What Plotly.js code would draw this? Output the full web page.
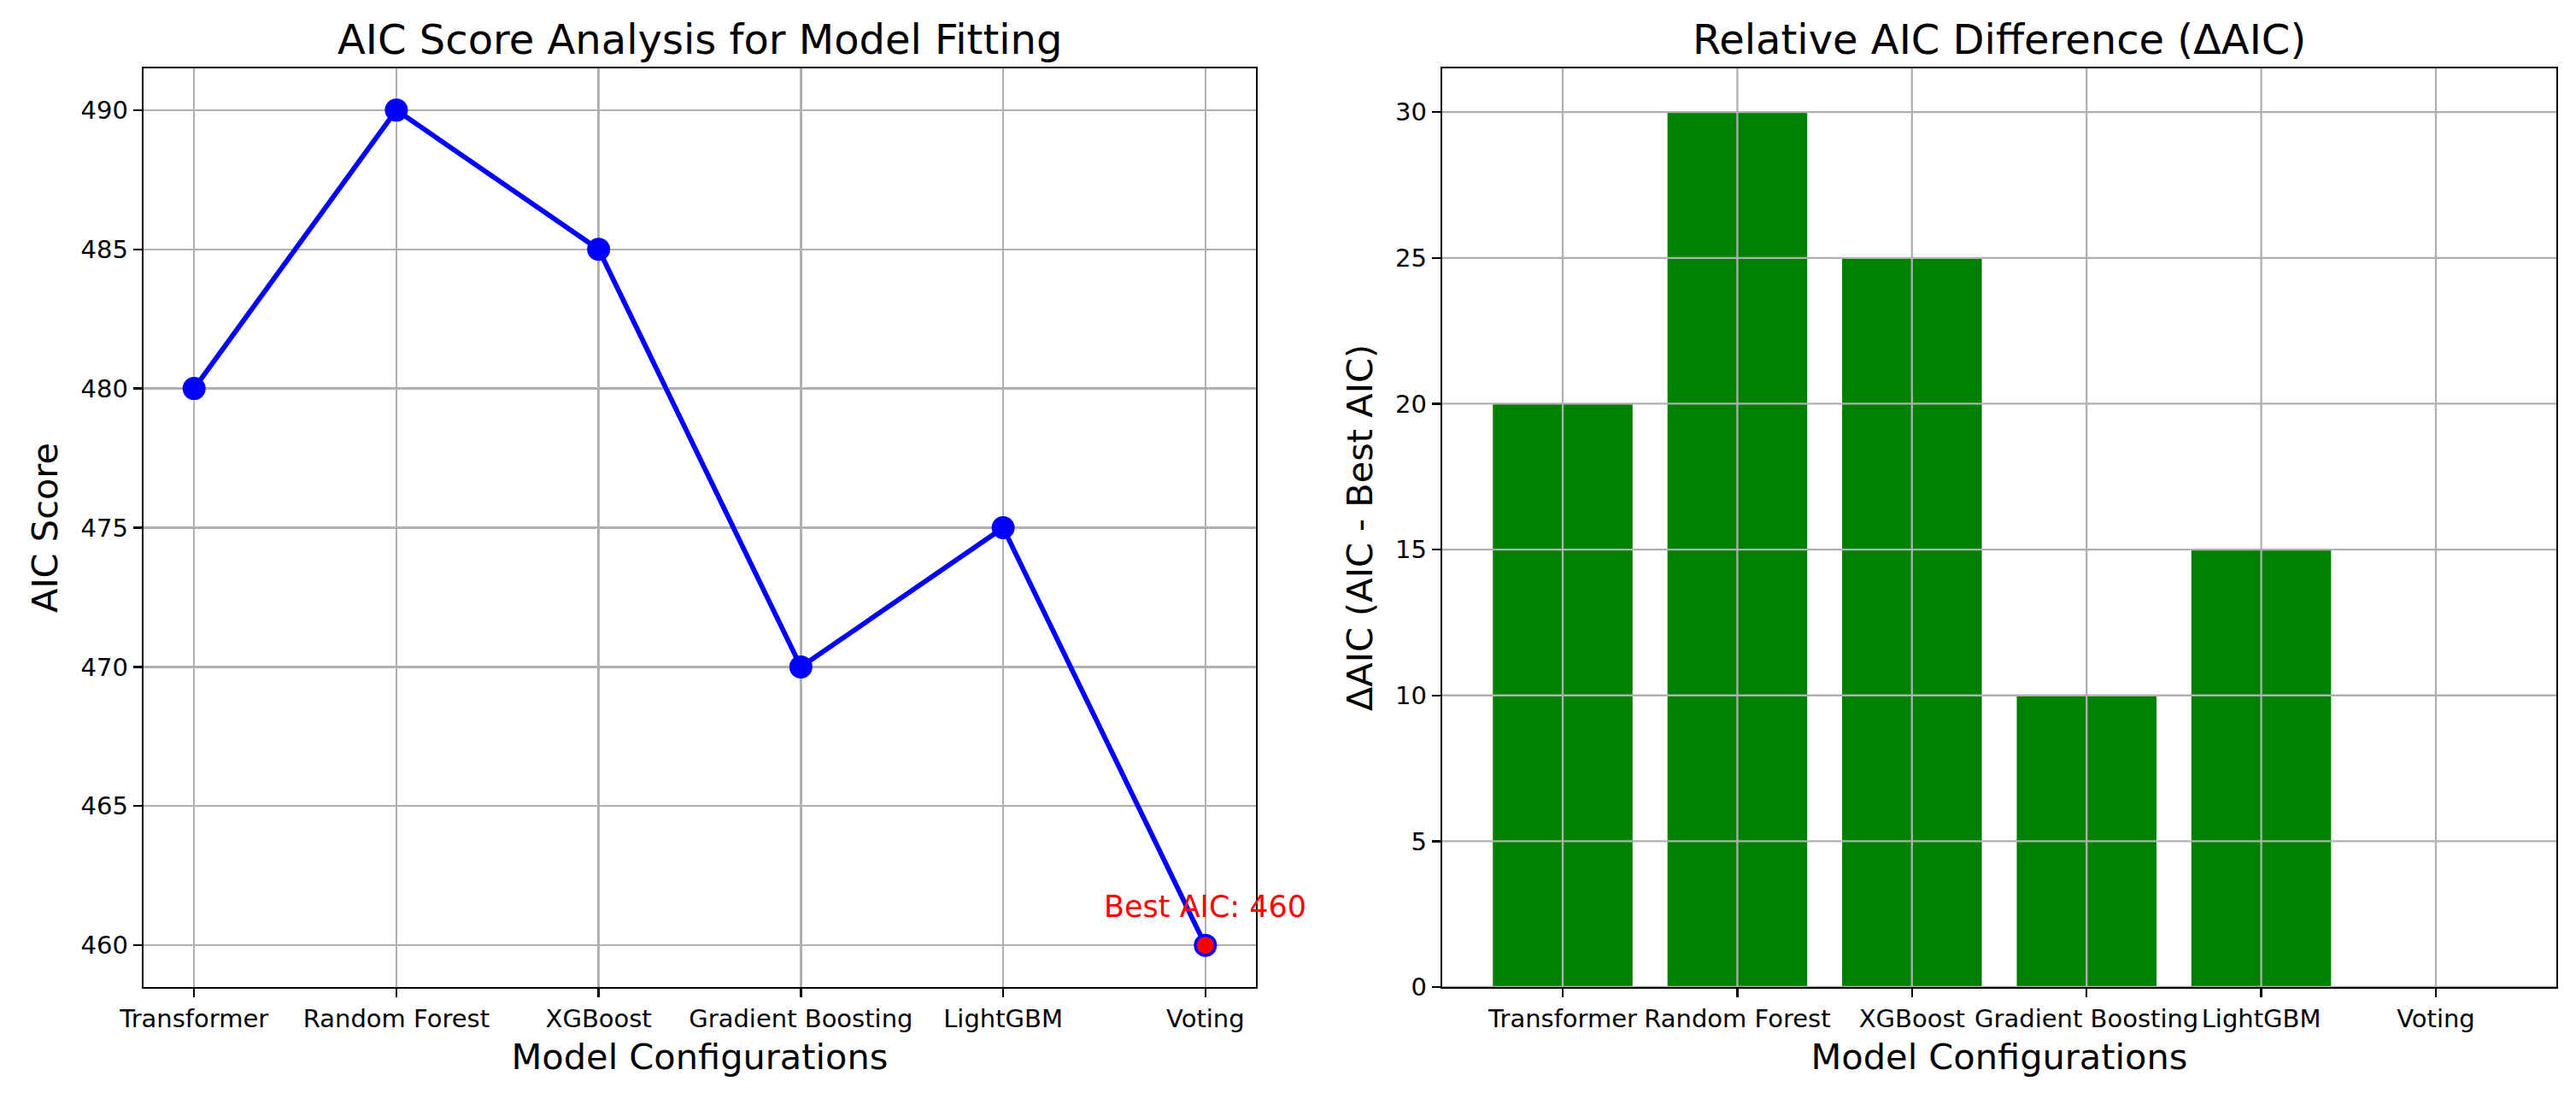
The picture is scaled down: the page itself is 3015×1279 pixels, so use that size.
<!DOCTYPE html>
<html>
<head>
<meta charset="utf-8">
<script src="https://cdn.plot.ly/plotly-3.0.1.min.js"></script>
<style>html,body{margin:0;padding:0;background:#fff}#chart{width:3015px;height:1279px}</style>
</head>
<body>
<div id="chart"></div>
<script>
// ---- data ----
const models = ["Transformer", "Random Forest", "XGBoost", "Gradient Boosting", "LightGBM", "Voting"];
const aicScores = [480, 490, 485, 470, 475, 460];
const deltaAic = [20, 30, 25, 10, 15, 0];
const bestModel = ["Voting"];
const bestAic = [460];
const aicTicks = [460, 465, 470, 475, 480, 485, 490];
const deltaTicks = [0, 5, 10, 15, 20, 25, 30];

const FONT = "DejaVu Sans";
const TICK = 29, LABEL = 41.5, TITLE = 48;

const traces = [
  {
    type: "scatter", mode: "lines+markers", x: models, y: aicScores,
    xaxis: "x", yaxis: "y",
    line: {color: "#0000ff", width: 5.8},
    marker: {color: "#0000ff", size: 27},
    cliponaxis: false, hoverinfo: "skip", showlegend: false
  },
  {
    type: "scatter", mode: "markers", x: bestModel, y: bestAic,
    xaxis: "x", yaxis: "y",
    marker: {color: "#ff0000", size: 20},
    cliponaxis: false, hoverinfo: "skip", showlegend: false
  },
  {
    type: "bar", x: models, y: deltaAic, xaxis: "x2", yaxis: "y2",
    width: 0.8, marker: {color: "#008000", line: {width: 0}},
    hoverinfo: "skip", showlegend: false
  }
];

const axisCommon = {
  showline: true, mirror: true, linecolor: "#000", linewidth: 2.3,
  ticks: "outside", ticklen: 10, tickwidth: 2.3, tickcolor: "#000",
  tickfont: {family: FONT, size: TICK, color: "#000"},
  gridcolor: "#b0b0b0", gridwidth: 2.3, zeroline: false, automargin: false
};

// grid lines drawn above the bars (matplotlib draws grid over patches)
const shapes = [];
deltaTicks.forEach(v => shapes.push({
  type: "line", layer: "above", xref: "x2 domain", yref: "y2",
  x0: 0, x1: 1, y0: v, y1: v, line: {color: "#b0b0b0", width: 2.3}
}));
models.forEach(m => shapes.push({
  type: "line", layer: "above", xref: "x2", yref: "y2 domain",
  x0: m, x1: m, y0: 0, y1: 1, line: {color: "#b0b0b0", width: 2.3}
}));

const layout = {
  width: 3015, height: 1279,
  margin: {l: 168, r: 23, t: 80, b: 123.5, pad: 0},
  paper_bgcolor: "#fff", plot_bgcolor: "#fff",
  font: {family: FONT, color: "#000"},
  showlegend: false,
  xaxis: Object.assign({}, axisCommon, {
    domain: [0, 0.46105], type: "category", range: [-0.25, 5.25],
    tickangle: 0, showgrid: true,
    title: {text: "Model Configurations", font: {family: FONT, size: LABEL}, standoff: 14}
  }),
  yaxis: Object.assign({}, axisCommon, {
    domain: [0, 1], range: [458.5, 491.5], tickvals: aicTicks, showgrid: true,
    title: {text: "AIC Score", font: {family: FONT, size: LABEL}, standoff: 14}
  }),
  xaxis2: Object.assign({}, axisCommon, {
    domain: [0.53824, 1], type: "category", range: [-0.69, 5.69], anchor: "y2",
    tickangle: 0, showgrid: false,
    title: {text: "Model Configurations", font: {family: FONT, size: LABEL}, standoff: 14}
  }),
  yaxis2: Object.assign({}, axisCommon, {
    domain: [0, 1], range: [0, 31.5], tickvals: deltaTicks, anchor: "x2", showgrid: false,
    title: {text: "ΔAIC (AIC - Best AIC)", font: {family: FONT, size: LABEL}, standoff: 14}
  }),
  shapes: shapes,
  annotations: [
    {text: "AIC Score Analysis for Model Fitting", xref: "paper", yref: "paper",
     x: 0.230525, y: 1, xanchor: "center", yanchor: "bottom", yshift: 4, showarrow: false,
     font: {family: FONT, size: TITLE, color: "#000"}},
    {text: "Relative AIC Difference (ΔAIC)", xref: "paper", yref: "paper",
     x: 0.76912, y: 1, xanchor: "center", yanchor: "bottom", yshift: 4, showarrow: false,
     font: {family: FONT, size: TITLE, color: "#000"}},
    {text: "Best AIC: " + bestAic[0], xref: "x", yref: "y",
     x: bestModel[0], y: bestAic[0] + 1, xanchor: "center", yanchor: "bottom", yshift: -9,
     showarrow: false, font: {family: FONT, size: 35, color: "#ff0000"}}
  ]
};

Plotly.newPlot("chart", traces, layout, {staticPlot: true, displayModeBar: false});
</script>
</body>
</html>
